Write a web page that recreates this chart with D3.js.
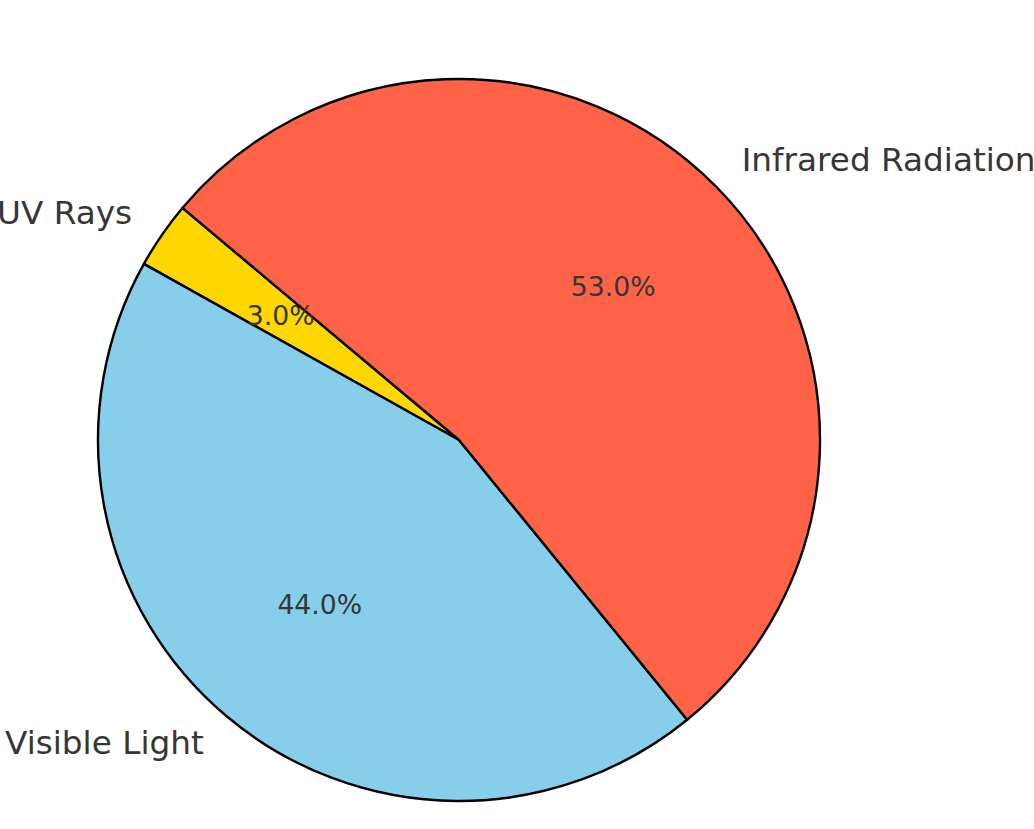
<!DOCTYPE html>
<html>
<head>
<meta charset="utf-8">
<script src="https://cdn.jsdelivr.net/npm/d3@7.9.0/dist/d3.min.js"></script>
<style>
  html, body { margin: 0; padding: 0; background: #fff; overflow: hidden; }
  svg text { font-family: "DejaVu Sans", sans-serif; fill: #363636; }
</style>
</head>
<body>
<svg id="chart" width="1034" height="829"></svg>
<script>
// slice data, in drawing order (counter-clockwise from 140 degrees)
const labels = ['UV Rays', 'Visible Light', 'Infrared Radiation'];
const values = [3, 44, 53];
const sliceColors = ['#FFD700', '#87CEEB', '#FF6347'];

const width = 1034, height = 829;
const cx = 459, cy = 440, radius = 361;
const startDeg = 140;

const rad = d => d * Math.PI / 180;

const data = labels.map((label, i) => ({ label, value: values[i], color: sliceColors[i] }));

// d3 angles run clockwise from 12 o'clock, so convert and run backwards
const pie = d3.pie()
    .sort(null)
    .value(d => d.value)
    .startAngle(rad(90 - startDeg))
    .endAngle(rad(90 - startDeg - 360));

const arcs = pie(data);
const total = d3.sum(values);

const arcGen = d3.arc().innerRadius(0).outerRadius(radius);

const svg = d3.select('#chart');
const g = svg.append('g').attr('transform', `translate(${cx},${cy})`);

g.selectAll('path')
    .data(arcs)
    .enter()
    .append('path')
    .attr('d', arcGen)
    .attr('fill', d => d.data.color)
    .attr('stroke', '#000')
    .attr('stroke-width', 2.4)
    .attr('stroke-linejoin', 'round');

function pos(d, k) {
    const a = (d.startAngle + d.endAngle) / 2;
    return [Math.sin(a) * radius * k, -Math.cos(a) * radius * k];
}

const labelSize = 32.7, pctSize = 26.7;

// outer labels at 1.1 r
g.selectAll('text.label')
    .data(arcs)
    .enter()
    .append('text')
    .attr('class', 'label')
    .attr('x', d => pos(d, 1.1)[0])
    .attr('y', d => pos(d, 1.1)[1] + 0.3 * labelSize)
    .attr('text-anchor', d => pos(d, 1.1)[0] > 0 ? 'start' : 'end')
    .style('font-size', labelSize + 'px')
    .text(d => d.data.label);

// percentages at 0.6 r
g.selectAll('text.pct')
    .data(arcs)
    .enter()
    .append('text')
    .attr('class', 'pct')
    .attr('x', d => pos(d, 0.6)[0])
    .attr('y', d => pos(d, 0.6)[1] + 0.3 * pctSize)
    .attr('text-anchor', 'middle')
    .style('font-size', pctSize + 'px')
    .text(d => (d.data.value / total * 100).toFixed(1) + '%');
</script>
</body>
</html>
